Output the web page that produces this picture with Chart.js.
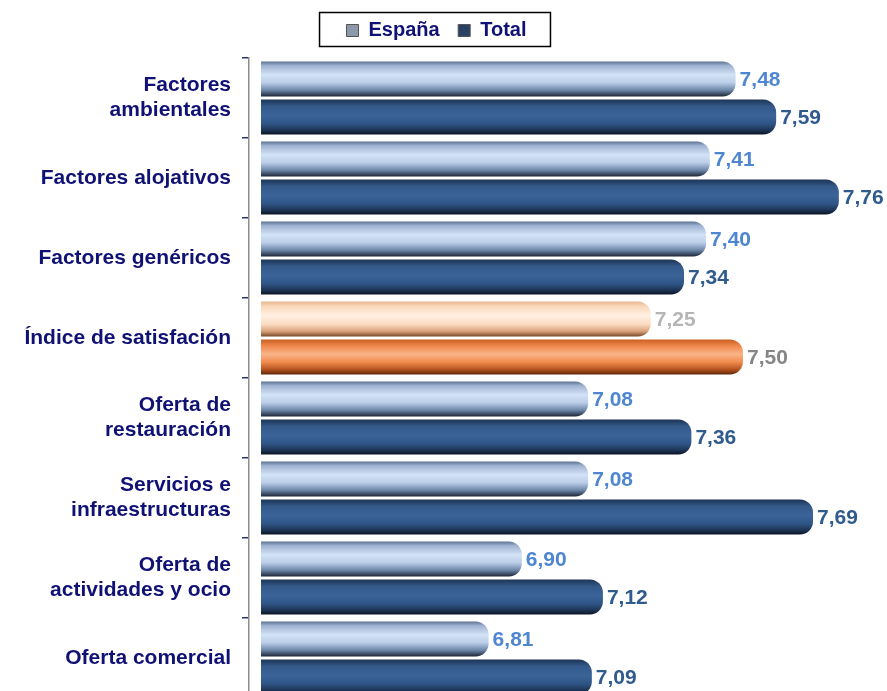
<!DOCTYPE html>
<html>
<head>
<meta charset="utf-8">
<script src="https://cdn.jsdelivr.net/npm/chart.js@4.4.1/dist/chart.umd.min.js"></script>
<style>
  html, body { margin: 0; padding: 0; background: #fff; overflow: hidden; }
  #wrap { position: relative; width: 887px; height: 701px; }
</style>
</head>
<body>
<div id="wrap"><canvas id="bars"></canvas></div>
<script>
const categories = [
  ["Factores", "ambientales"],
  "Factores alojativos",
  "Factores genéricos",
  "Índice de satisfación",
  ["Oferta de", "restauración"],
  ["Servicios e", "infraestructuras"],
  ["Oferta de", "actividades y ocio"],
  "Oferta comercial"
];
const seriesNames = ["España", "Total"];
const espana = [7.48, 7.41, 7.40, 7.25, 7.08, 7.08, 6.90, 6.81];
const total = [7.59, 7.76, 7.34, 7.50, 7.36, 7.69, 7.12, 7.09];
const highlightIdx = 3; // índice de satisfación in orange

const catPct = 0.95;
const barPct = 0.92;

// vertical gradient stops for the "tube" look
const tubes = {
  espana: [[0, "#5d7190"], [0.12, "#9fb3d2"], [0.38, "#d3e2f6"], [0.6, "#bccfe9"], [0.82, "#6e86a8"], [1, "#1b2638"]],
  total: [[0, "#1d3455"], [0.2, "#34598a"], [0.45, "#3b6499"], [0.7, "#2f5586"], [0.88, "#1c3354"], [1, "#0b1424"]],
  espanaHi: [[0, "#e8b78f"], [0.15, "#fad9bd"], [0.4, "#fff0e2"], [0.65, "#fbdcc2"], [0.85, "#d9a27a"], [1, "#7a4a2c"]],
  totalHi: [[0, "#c95f22"], [0.18, "#f0874a"], [0.42, "#f9b48a"], [0.65, "#f08a4c"], [0.85, "#b85520"], [1, "#5e2708"]]
};
const valueColors = ["#4f86d2", "#2f5b8e"];
const valueColorsHi = ["#b5b5b5", "#858585"];

function tubeFill(ctx) {
  const chart = ctx.chart;
  const y = chart.scales.y;
  if (!chart.chartArea || !y || ctx.dataIndex === undefined) return "#34598a";
  const slot = (y.height / categories.length) * catPct / 2;
  const thick = slot * barPct;
  const center = y.getPixelForValue(ctx.dataIndex) + (ctx.datasetIndex === 0 ? -slot / 2 : slot / 2);
  const top = center - thick / 2;
  let key = ctx.datasetIndex === 0 ? "espana" : "total";
  if (ctx.dataIndex === highlightIdx) key += "Hi";
  const g = chart.ctx.createLinearGradient(0, top, 0, top + thick);
  tubes[key].forEach(s => g.addColorStop(s[0], s[1]));
  return g;
}

const valueLabels = {
  id: "valueLabels",
  afterDatasetsDraw(chart) {
    const c = chart.ctx;
    c.save();
    c.font = "bold 21px 'Liberation Sans', Arial, sans-serif";
    c.textBaseline = "middle";
    c.textAlign = "left";
    chart.data.datasets.forEach((ds, di) => {
      chart.getDatasetMeta(di).data.forEach((bar, i) => {
        c.fillStyle = i === highlightIdx ? valueColorsHi[di] : valueColors[di];
        c.fillText(ds.data[i].toFixed(2).replace(".", ","), bar.x + 4, bar.y + 1);
      });
    });
    c.restore();
  }
};

const legendBorder = {
  id: "legendBorder",
  afterDraw(chart) {
    const boxes = chart.legend.legendHitBoxes;
    if (!boxes.length) return;
    const left = Math.min(...boxes.map(b => b.left)) - 27;
    const right = Math.max(...boxes.map(b => b.left + b.width)) + 24;
    const c = chart.ctx;
    c.save();
    c.strokeStyle = "#000";
    c.lineWidth = 1.5;
    c.strokeRect(left, 12.5, right - left, 34);
    c.restore();
  }
};

Chart.defaults.font.family = "'Liberation Sans', Arial, sans-serif";

const barStyle = {
  borderWidth: 0,
  borderSkipped: "start",
  borderRadius: { topRight: 13, bottomRight: 13, topLeft: 0, bottomLeft: 0 },
  base: 6.1925,
  categoryPercentage: catPct,
  barPercentage: barPct
};

new Chart(document.getElementById("bars"), {
  type: "bar",
  data: {
    labels: categories,
    datasets: [
      { label: seriesNames[0], data: espana, backgroundColor: tubeFill, ...barStyle },
      { label: seriesNames[1], data: total, backgroundColor: tubeFill, ...barStyle }
    ]
  },
  options: {
    indexAxis: "y",
    responsive: true,
    maintainAspectRatio: false,
    animation: false,
    layout: { padding: { top: 2, right: 36, bottom: 3, left: 22 } },
    scales: {
      x: {
        position: "top",
        min: 6.16,
        max: 7.793,
        ticks: { display: false },
        grid: { display: false, drawTicks: false },
        border: { display: false },
        afterFit(scale) { scale.height = 7.5; }
      },
      y: {
        afterFit(scale) {
          scale.width = 227;
          scale.paddingTop = 0;
          scale.paddingBottom = 0;
        },
        border: { color: "#8c8c8c", width: 1.5 },
        grid: { offset: true, drawOnChartArea: false, tickLength: 7, color: "#1f3a6a", lineWidth: 1.5 },
        ticks: {
          padding: 11,
          color: "#0f1174",
          font: { size: 21, weight: "bold", lineHeight: 1.2 }
        }
      }
    },
    plugins: {
      tooltip: { enabled: false },
      legend: {
        position: "top",
        labels: {
          color: "#0f1174",
          boxWidth: 12,
          boxHeight: 12,
          padding: 18.5,
          font: { size: 20, weight: "bold" },
          generateLabels(chart) {
            const fills = ["#8c99ab", "#2b4163"];
            return chart.data.datasets.map((ds, i) => ({
              text: ds.label,
              fillStyle: fills[i],
              strokeStyle: "#555",
              lineWidth: 1,
              fontColor: "#0f1174",
              datasetIndex: i
            }));
          }
        }
      }
    }
  },
  plugins: [valueLabels, legendBorder]
});
</script>
</body>
</html>
